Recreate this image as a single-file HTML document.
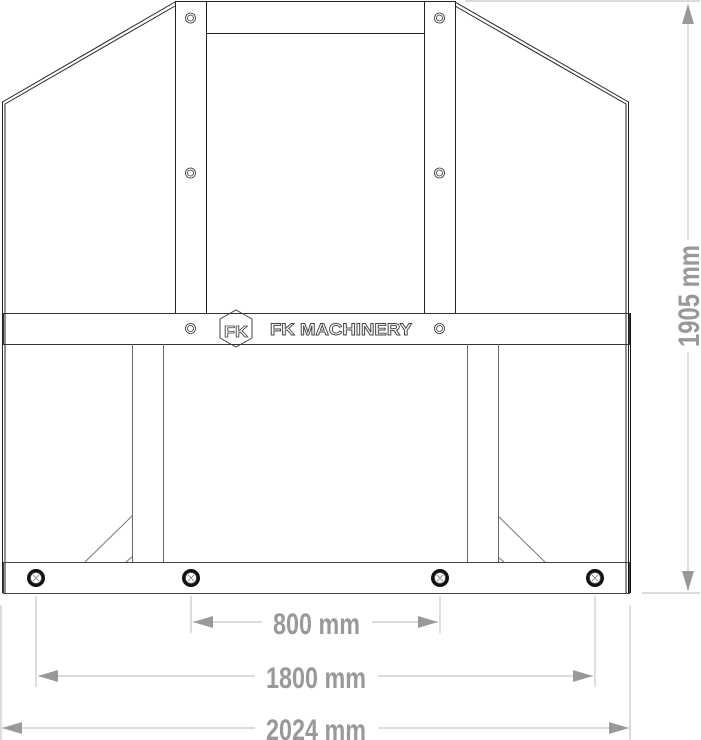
<!DOCTYPE html>
<html><head><meta charset="utf-8"><style>html,body{margin:0;padding:0;background:#fff;}svg{display:block}</style></head>
<body>
<svg width="701" height="740" viewBox="0 0 701 740" xmlns="http://www.w3.org/2000/svg">
<defs>
<marker id="a" viewBox="0 0 20 12" refX="20" refY="6" markerWidth="20" markerHeight="12" markerUnits="userSpaceOnUse" orient="auto"><path d="M0,0 L20,6 L0,12 Z" fill="#999"/></marker>
</defs>
<g fill="none" stroke="#222" stroke-width="1">
<path d="M2.5,593 L2.5,102 L175,2"/>
<path d="M5,593 L5,104 L175,6"/>
<path d="M628.5,593 L628.5,102 L455,2"/>
<path d="M626,593 L626,104 L455,6"/>
<rect x="175.5" y="1.5" width="31" height="312"/>
<rect x="424.5" y="1.5" width="31" height="312"/>
<path d="M206.5,1.5 H424.5 M206.5,33.5 H424.5"/>
<rect x="3.5" y="313.5" width="626" height="31" stroke="#333"/>
<path d="M132.5,344 V562 M163.5,344 V562 M467.5,344 V562 M498.5,344 V562" stroke="#666"/>
<path d="M85,562 L132,516 M126,562 L132,557 M498,516 L545,562 M498,557 L504,562" stroke="#777"/>
<rect x="3.5" y="562.5" width="626" height="31" stroke="#444"/>
<path d="M628.5,562 V593 M630.5,313 V593" stroke="#111"/>
</g>
<g fill="none" stroke="#333" stroke-width="0.8">
<circle cx="190.5" cy="18" r="5"/><circle cx="190.5" cy="18" r="3"/>
<circle cx="190.5" cy="173" r="5"/><circle cx="190.5" cy="173" r="3"/>
<circle cx="190.5" cy="328.5" r="5"/><circle cx="190.5" cy="328.5" r="3"/>
<circle cx="439.5" cy="18" r="5"/><circle cx="439.5" cy="18" r="3"/>
<circle cx="439.5" cy="173" r="5"/><circle cx="439.5" cy="173" r="3"/>
<circle cx="439.5" cy="328.5" r="5"/><circle cx="439.5" cy="328.5" r="3"/>
</g>
<g>
<circle cx="36" cy="578" r="9" fill="#111"/><circle cx="36" cy="578" r="5.5" fill="#fff" stroke="#555" stroke-width="0.8"/>
<circle cx="191" cy="578" r="9" fill="#111"/><circle cx="191" cy="578" r="5.5" fill="#fff" stroke="#555" stroke-width="0.8"/>
<circle cx="440" cy="578" r="9" fill="#111"/><circle cx="440" cy="578" r="5.5" fill="#fff" stroke="#555" stroke-width="0.8"/>
<circle cx="595" cy="578" r="9" fill="#111"/><circle cx="595" cy="578" r="5.5" fill="#fff" stroke="#555" stroke-width="0.8"/>
<path d="M33,575 L39,581 M39,575 L33,581 M188,575 L194,581 M194,575 L188,581 M437,575 L443,581 M443,575 L437,581 M592,575 L598,581 M598,575 L592,581" stroke="#777" stroke-width="0.8"/>
</g>
<g fill="none" stroke="#444" stroke-width="1">
<polygon points="236,310 252,319 252,338 236,347 220,338 220,319"/>
<text x="224" y="337" font-family="Liberation Sans, sans-serif" font-weight="bold" font-size="16" fill="#fff" stroke="#444" stroke-width="0.8" textLength="24" lengthAdjust="spacingAndGlyphs">FK</text>
</g>
<text x="270" y="335" font-family="Liberation Sans, sans-serif" font-weight="bold" font-size="17" fill="#fff" stroke="#444" stroke-width="0.9" textLength="142" lengthAdjust="spacingAndGlyphs">FK MACHINERY</text>
<g stroke="#c8c8c8" stroke-width="1.2" fill="none">
<path d="M465,1 H700 M642,593 H700"/>
<path d="M688,240 V4" marker-end="url(#a)"/>
<path d="M688,352 V591" marker-end="url(#a)"/>
<path d="M191,596 V633 M440,596 V633"/>
<path d="M262,622 H193" marker-end="url(#a)"/>
<path d="M372,622 H438" marker-end="url(#a)"/>
<path d="M36,596 V687 M595,596 V687"/>
<path d="M255,676 H38" marker-end="url(#a)"/>
<path d="M378,676 H593" marker-end="url(#a)"/>
<path d="M1,605 V740 M630,605 V740"/>
<path d="M255,728 H2" marker-end="url(#a)"/>
<path d="M378,728 H629" marker-end="url(#a)"/>
</g>
<g font-family="Liberation Sans, sans-serif" font-weight="bold" font-size="30" fill="#999">
<text x="273" y="634" textLength="87" lengthAdjust="spacingAndGlyphs">800 mm</text>
<text x="266" y="688" textLength="100" lengthAdjust="spacingAndGlyphs">1800 mm</text>
<text x="266" y="740" textLength="100" lengthAdjust="spacingAndGlyphs">2024 mm</text>
<text transform="translate(699,347) rotate(-90)" textLength="102" lengthAdjust="spacingAndGlyphs">1905 mm</text>
</g>
</svg>
</body></html>
